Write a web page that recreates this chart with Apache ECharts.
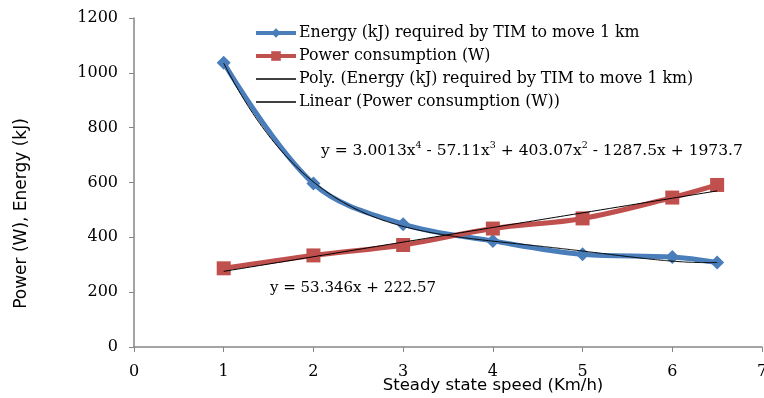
<!DOCTYPE html>
<html>
<head>
<meta charset="utf-8">
<script src="https://cdn.jsdelivr.net/npm/echarts@6/dist/echarts.min.js"></script>
<style>
  html, body { margin: 0; padding: 0; background: #fff; overflow: hidden; }
  #chart { width: 764px; height: 398px; }
</style>
</head>
<body>
<div id="chart"></div>
<script>
// Steady state speed (km/h)
const speeds = [1, 2, 3, 4, 5, 6, 6.5];
// Energy (kJ) required by TIM to move 1 km
const energy = [1037, 596, 448, 387, 338, 328, 308];
// Power consumption (W)
const power = [287, 334, 372, 432, 469, 545, 591];
// Trendline coefficients, highest power first
const polyCoef = [3.0013, -57.11, 403.07, -1287.5, 1973.7];
const linCoef = [53.346, 222.57];
const xTicks = [0, 1, 2, 3, 4, 5, 6, 7];
const yTicks = [0, 200, 400, 600, 800, 1000, 1200];

const names = [
  'Energy (kJ) required by TIM to move 1 km',
  'Power consumption (W)',
  'Poly. (Energy (kJ) required by TIM to move 1 km)',
  'Linear (Power consumption (W))'
];

function evalPoly(c, x) {
  return c.reduce((acc, k) => acc * x + k, 0);
}
function trend(c) {
  const pts = [];
  const x0 = speeds[0], x1 = speeds[speeds.length - 1];
  const n = 110;
  for (let i = 0; i <= n; i++) {
    const x = x0 + (x1 - x0) * i / n;
    pts.push([x, evalPoly(c, x)]);
  }
  return pts;
}

const serif = '"DejaVu Serif", serif';
const sans = '"DejaVu Sans", sans-serif';
const axisGray = '#868686';
const lineIcon = 'path://M0,0L40,0L40,1.3L0,1.3Z';

const chart = echarts.init(document.getElementById('chart'));
chart.setOption({
  animation: false,
  grid: { left: 134, right: 2, top: 18, bottom: 51, outerBoundsMode: 'none', containLabel: false },
  legend: {
    left: 254, top: 25, orient: 'vertical', padding: 0,
    itemWidth: 40, itemHeight: 12, itemGap: 7,
    textStyle: { fontFamily: serif, fontSize: 15.8, color: '#000', padding: [0, 0, 0, -2] },
    data: [
      { name: names[0], lineStyle: { width: 4 } },
      { name: names[1], lineStyle: { width: 4 } },
      { name: names[2], icon: lineIcon, itemStyle: { color: '#000' } },
      { name: names[3], icon: lineIcon, itemStyle: { color: '#000' } }
    ]
  },
  xAxis: {
    type: 'value', min: 0, max: 7, interval: 1,
    name: 'Steady state speed (Km/h)', nameLocation: 'middle', nameGap: 30,
    nameMoveOverlap: false,
    nameTextStyle: { fontFamily: sans, fontSize: 16.5, color: '#000', padding: [0, 0, 0, 90] },
    axisLine: { lineStyle: { color: axisGray, width: 1.5 } },
    axisTick: { show: true, length: 5, lineStyle: { color: axisGray } },
    axisLabel: { fontFamily: serif, fontSize: 16, color: '#000', margin: 17,
      formatter: v => xTicks.includes(v) ? String(v) : '' },
    splitLine: { show: false }
  },
  yAxis: {
    type: 'value', min: 0, max: 1200, interval: 200,
    name: 'Power (W), Energy (kJ)', nameLocation: 'middle', nameGap: 104, nameRotate: 90,
    nameMoveOverlap: false,
    nameTextStyle: { fontFamily: sans, fontSize: 17, color: '#000', padding: [0, 62, 0, 0] },
    axisLine: { show: true, lineStyle: { color: axisGray, width: 1.5 } },
    axisTick: { show: true, length: 5, lineStyle: { color: axisGray } },
    axisLabel: { fontFamily: serif, fontSize: 16, color: '#000', margin: 16,
      formatter: v => yTicks.includes(v) ? String(v) : '' },
    splitLine: { show: false }
  },
  series: [
    {
      name: names[0], type: 'line', smooth: 0.35,
      data: speeds.map((x, i) => [x, energy[i]]),
      symbol: 'diamond', symbolSize: 14,
      itemStyle: { color: '#4a7ebb' },
      lineStyle: { color: '#4a7ebb', width: 5 }, z: 2
    },
    {
      name: names[1], type: 'line', smooth: 0.35,
      data: speeds.map((x, i) => [x, power[i]]),
      symbol: 'rect', symbolSize: 14,
      itemStyle: { color: '#c0504d' },
      lineStyle: { color: '#c0504d', width: 5 }, z: 2
    },
    {
      name: names[2], type: 'line', smooth: true, symbol: 'none',
      data: trend(polyCoef),
      itemStyle: { color: '#000' },
      lineStyle: { color: '#000', width: 1 }, z: 3
    },
    {
      name: names[3], type: 'line', symbol: 'none',
      data: trend(linCoef),
      itemStyle: { color: '#000' },
      lineStyle: { color: '#000', width: 1 }, z: 3
    }
  ],
  graphic: [
    {
      type: 'text', left: 321, top: 141,
      style: {
        text: '{b|y = 3.0013x}{s|4}{b| - 57.11x}{s|3}{b| + 403.07x}{s|2}{b| - 1287.5x + 1973.7}',
        rich: {
          b: { fontFamily: serif, fontSize: 15.5, fill: '#000', verticalAlign: 'bottom' },
          s: { fontFamily: serif, fontSize: 9.5, fill: '#000', verticalAlign: 'top', padding: [0, 0, 8, 0] }
        }
      }
    },
    {
      type: 'text', left: 270, top: 281,
      style: { text: 'y = 53.346x + 222.57', font: '15px ' + serif, fill: '#000' }
    }
  ]
});
</script>
</body>
</html>
